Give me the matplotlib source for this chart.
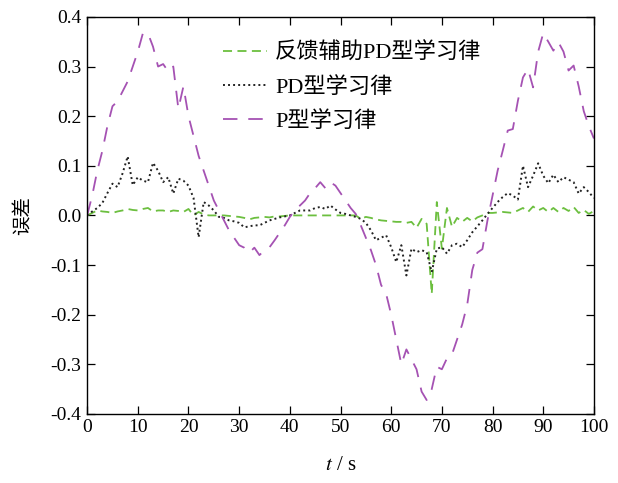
import numpy as np
import matplotlib
matplotlib.use("Agg")
import matplotlib.pyplot as plt
from matplotlib.ticker import FormatStrFormatter

plt.rcParams['font.family'] = ['Liberation Serif', 'Noto Sans CJK SC']
plt.rcParams['mathtext.fontset'] = 'stix'
plt.rcParams['axes.unicode_minus'] = True

# time samples, one per second
t = list(range(0, 101))

# 反馈辅助PD型学习律
err_fb_pd = [
    0.000, 0.005, 0.010, 0.008, 0.007, 0.005, 0.008, 0.010, 0.013, 0.011,
    0.010, 0.013, 0.015, 0.008, 0.010, 0.010, 0.007, 0.010, 0.009, 0.007,
    0.013, 0.000, 0.007, 0.002, 0.000, 0.000, 0.000, 0.000, -0.001, -0.002,
    -0.003, -0.005, -0.008, -0.005, -0.004, -0.003, -0.004, -0.002, -0.002, -0.001,
    0.000, 0.000, 0.000, 0.000, 0.000, 0.000, 0.000, 0.000, 0.000, 0.000,
    0.000, 0.000, 0.000, 0.000, -0.007, -0.003, -0.005, -0.008, -0.010, -0.011,
    -0.012, -0.013, -0.013, -0.015, -0.013, -0.025, -0.007, -0.017, -0.158, 0.027,
    -0.067, 0.015, -0.023, -0.005, -0.013, -0.005, -0.012, -0.004, 0.000, 0.005,
    0.005, 0.006, 0.007, 0.006, 0.005, 0.010, 0.015, 0.007, 0.018, 0.010,
    0.015, 0.007, 0.015, 0.007, 0.015, 0.009, 0.017, 0.005, 0.011, 0.003,
    0.009,
]

# PD型学习律
err_pd = [
    0.000, 0.008, 0.015, 0.025, 0.045, 0.064, 0.057, 0.085, 0.119, 0.061,
    0.077, 0.070, 0.067, 0.106, 0.090, 0.067, 0.077, 0.044, 0.074, 0.070,
    0.060, 0.035, -0.044, 0.027, 0.020, 0.010, -0.003, -0.005, -0.010, -0.012,
    -0.015, -0.024, -0.022, -0.020, -0.020, -0.015, -0.010, -0.007, -0.004, -0.002,
    0.000, 0.005, 0.010, 0.010, 0.010, 0.015, 0.017, 0.013, 0.020, 0.012,
    0.005, 0.003, 0.000, -0.003, -0.007, -0.015, -0.030, -0.050, -0.045, -0.040,
    -0.064, -0.094, -0.060, -0.121, -0.067, -0.074, -0.070, -0.074, -0.114, -0.067,
    -0.064, -0.077, -0.060, -0.057, -0.064, -0.050, -0.034, -0.022, -0.010, 0.003,
    0.015, 0.027, 0.037, 0.045, 0.040, 0.032, 0.100, 0.057, 0.080, 0.105,
    0.080, 0.065, 0.082, 0.067, 0.077, 0.072, 0.067, 0.044, 0.057, 0.047,
    0.035,
]

# P型学习律
err_p = [
    0.000, 0.040, 0.090, 0.130, 0.180, 0.220, 0.230, 0.250, 0.270, 0.300,
    0.330, 0.367, 0.367, 0.340, 0.300, 0.305, 0.290, 0.300, 0.215, 0.260,
    0.200, 0.160, 0.120, 0.090, 0.060, 0.030, 0.010, -0.010, -0.030, -0.045,
    -0.060, -0.065, -0.075, -0.065, -0.080, -0.070, -0.064, -0.050, -0.035, -0.020,
    -0.003, 0.010, 0.020, 0.030, 0.045, 0.055, 0.067, 0.055, 0.067, 0.060,
    0.045, 0.030, 0.015, 0.003, -0.020, -0.045, -0.070, -0.100, -0.140, -0.158,
    -0.200, -0.250, -0.300, -0.270, -0.290, -0.310, -0.355, -0.372, -0.350, -0.305,
    -0.310, -0.288, -0.280, -0.250, -0.220, -0.180, -0.110, -0.075, -0.068, -0.010,
    0.040, 0.090, 0.130, 0.171, 0.174, 0.231, 0.278, 0.295, 0.258, 0.330,
    0.367, 0.350, 0.332, 0.349, 0.330, 0.292, 0.302, 0.260, 0.210, 0.180,
    0.155,
]

labels = ['反馈辅助PD型学习律', 'PD型学习律', 'P型学习律']
x_ticks = [0, 10, 20, 30, 40, 50, 60, 70, 80, 90, 100]
y_ticks = [-0.4, -0.3, -0.2, -0.1, 0.0, 0.1, 0.2, 0.3, 0.4]

fig = plt.figure(figsize=(6.18, 4.83), dpi=100)
ax = fig.add_axes([0.141, 0.143, 0.820, 0.822])

ax.plot(t, err_fb_pd, color='#6cbf3f', lw=1.3, dashes=(5, 3), label=labels[0])
ax.plot(t, err_pd, color='#222222', lw=1.4, dashes=(1, 1.6), label=labels[1])
ax.plot(t, err_p, color='#a552b3', lw=1.3, dashes=(8, 6), label=labels[2])

ax.set_xlim(0, 100)
ax.set_ylim(-0.4, 0.4)
ax.set_xticks(x_ticks)
ax.set_yticks(y_ticks)
ax.yaxis.set_major_formatter(FormatStrFormatter('%.1f'))
ax.tick_params(direction='in', length=5.5, width=0.9, top=True, right=True,
               labelsize=14, pad=4)
for s in ax.spines.values():
    s.set_linewidth(1.0)

ax.set_xlabel(r'$t$ / s', fontsize=15, labelpad=14)
ax.set_ylabel('误差', fontsize=14, labelpad=13)

ax.legend(loc='upper left', bbox_to_anchor=(0.237, 0.975), frameon=False,
          fontsize=16, handlelength=2.0, handletextpad=0.35, labelspacing=0.6,
          borderpad=0.2)

fig.savefig('out.png', dpi=100)
